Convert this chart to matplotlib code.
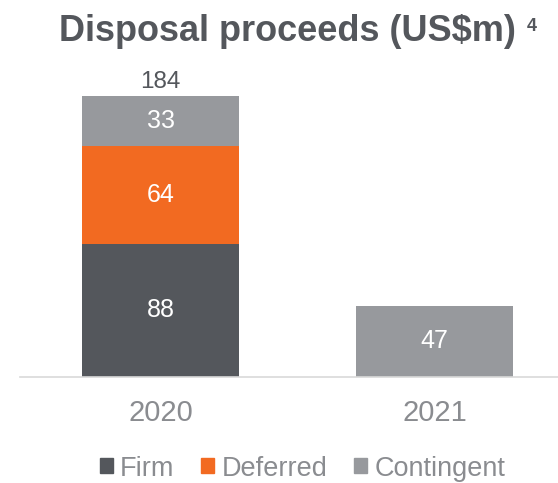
import matplotlib.pyplot as plt
from matplotlib.patches import Patch

plt.rcParams['font.family'] = ['Liberation Sans', 'DejaVu Sans']

years = ['2020', '2021']
firm = [88, 0]
deferred = [64, 0]
contingent = [33, 47]
totals = [184, None]

col_firm = '#54575c'
col_def = '#f26a21'
col_cont = '#97999d'

fig = plt.figure(figsize=(5.58, 4.83), dpi=100)
ax = fig.add_axes([20 / 558, 106 / 483, 538 / 558, 317 / 483])

x = range(len(years))
w = 0.573
bottom_def = firm
bottom_cont = [f + d for f, d in zip(firm, deferred)]
ax.bar(x, firm, w, color=col_firm)
ax.bar(x, deferred, w, bottom=bottom_def, color=col_def)
ax.bar(x, contingent, w, bottom=bottom_cont, color=col_cont)

# segment labels
for i in x:
    for val, base in ((firm[i], 0), (deferred[i], bottom_def[i]), (contingent[i], bottom_cont[i])):
        if val:
            ax.text(i, base + val / 2, str(val), ha='center', va='center',
                    color='white', fontsize=18)
    if totals[i]:
        ax.text(i, bottom_cont[i] + contingent[i] + 2, str(totals[i]), ha='center',
                va='bottom', color='#54575c', fontsize=17.5)

ax.set_xlim(-0.513, 1.451)
ax.set_ylim(0, 209)
ax.set_xticks(list(x))
ax.set_xticklabels(years, fontsize=21, color='#8a8c90')
ax.tick_params(axis='x', length=0, pad=16)
ax.set_yticks([])
for s in ('top', 'left', 'right'):
    ax.spines[s].set_visible(False)
ax.spines['bottom'].set_color('#d9d9d9')
ax.spines['bottom'].set_linewidth(1.2)

fig.text(287 / 558, 1 - 41 / 483, 'Disposal proceeds (US\\$m)', ha='center', va='baseline',
         fontsize=26, fontweight='bold', color='#54575c')
fig.text(531.5 / 558, 1 - 31 / 483, '4', ha='center', va='baseline',
         fontsize=13, fontweight='bold', color='#54575c')

handles = [Patch(color=col_firm), Patch(color=col_def), Patch(color=col_cont)]
fig.legend(handles, ['Firm', 'Deferred', 'Contingent'], loc='center',
           bbox_to_anchor=(0.542, 0.03), ncol=3, frameon=False,
           fontsize=19.5, labelcolor='#8a8c90', handlelength=0.48, handleheight=0.48,
           handletextpad=0.26, columnspacing=1.0, borderpad=0.2)

fig.savefig('out.png', dpi=100)
